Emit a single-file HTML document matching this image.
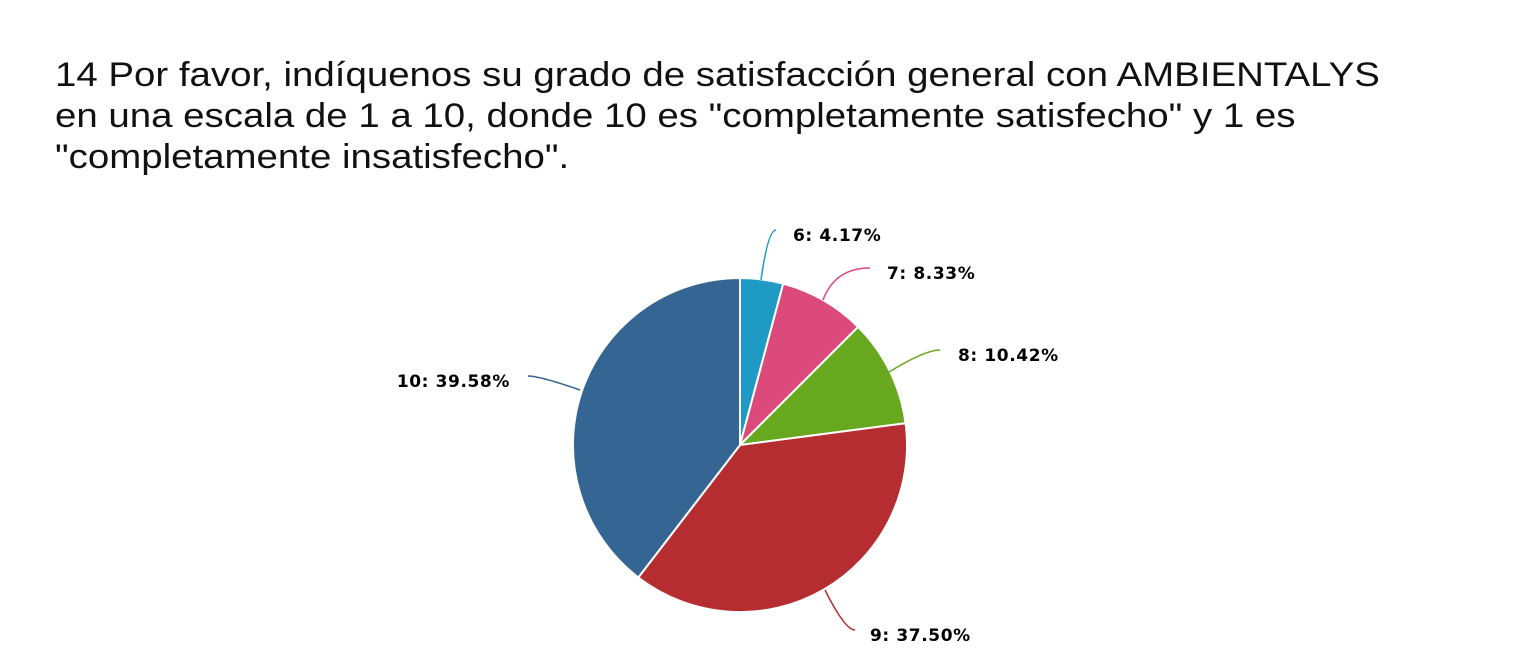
<!DOCTYPE html>
<html><head><meta charset="utf-8"><style>
body{margin:0;background:#fff;width:1514px;height:664px;overflow:hidden}
.t{position:absolute;left:55px;top:55px;font-family:"Liberation Sans",sans-serif;font-size:34px;line-height:41px;color:#111;transform:scaleX(1.13);transform-origin:left top;white-space:nowrap}
svg{position:absolute;left:0;top:0}
</style></head><body>
<div class="t">14 Por favor, indíquenos su grado de satisfacción general con AMBIENTALYS<br>en una escala de 1 a 10, donde 10 es "completamente satisfecho" y 1 es<br>"completamente insatisfecho".</div>
<svg width="1514" height="664" font-family="DejaVu Sans, sans-serif" font-weight="bold" font-size="17" letter-spacing="0.6">
<g stroke="#fff" stroke-width="2">
<path d="M740 445 L740 278 A167 167 0 0 1 783.2 283.7Z" fill="#1e9ac5"/>
<path d="M740 445 L783.2 283.7 A167 167 0 0 1 858.1 326.9Z" fill="#db4a7a"/>
<path d="M740 445 L858.1 326.9 A167 167 0 0 1 905.6 423.2Z" fill="#68a81f"/>
<path d="M740 445 L905.6 423.2 A167 167 0 0 1 638.3 577.5Z" fill="#b52d30"/>
<path d="M740 445 L638.3 577.5 A167 167 0 0 1 740 278Z" fill="#356593"/>
</g>
<g fill="none" stroke-width="1.5">
<path d="M761 280 Q768 230 776 230" stroke="#1e9ac5"/>
<path d="M823 300 Q835 268 870 268" stroke="#db4a7a"/>
<path d="M889 372 Q925 350 940 350" stroke="#68a81f"/>
<path d="M580 390 Q540 376 528 376" stroke="#356593"/>
<path d="M825 590 Q845 630 855 630" stroke="#b52d30"/>
</g>
<text x="793" y="241">6: 4.17%</text>
<text x="887" y="279">7: 8.33%</text>
<text x="958" y="361">8: 10.42%</text>
<text x="510" y="387" text-anchor="end">10: 39.58%</text>
<text x="870" y="641">9: 37.50%</text>
</svg>
</body></html>
